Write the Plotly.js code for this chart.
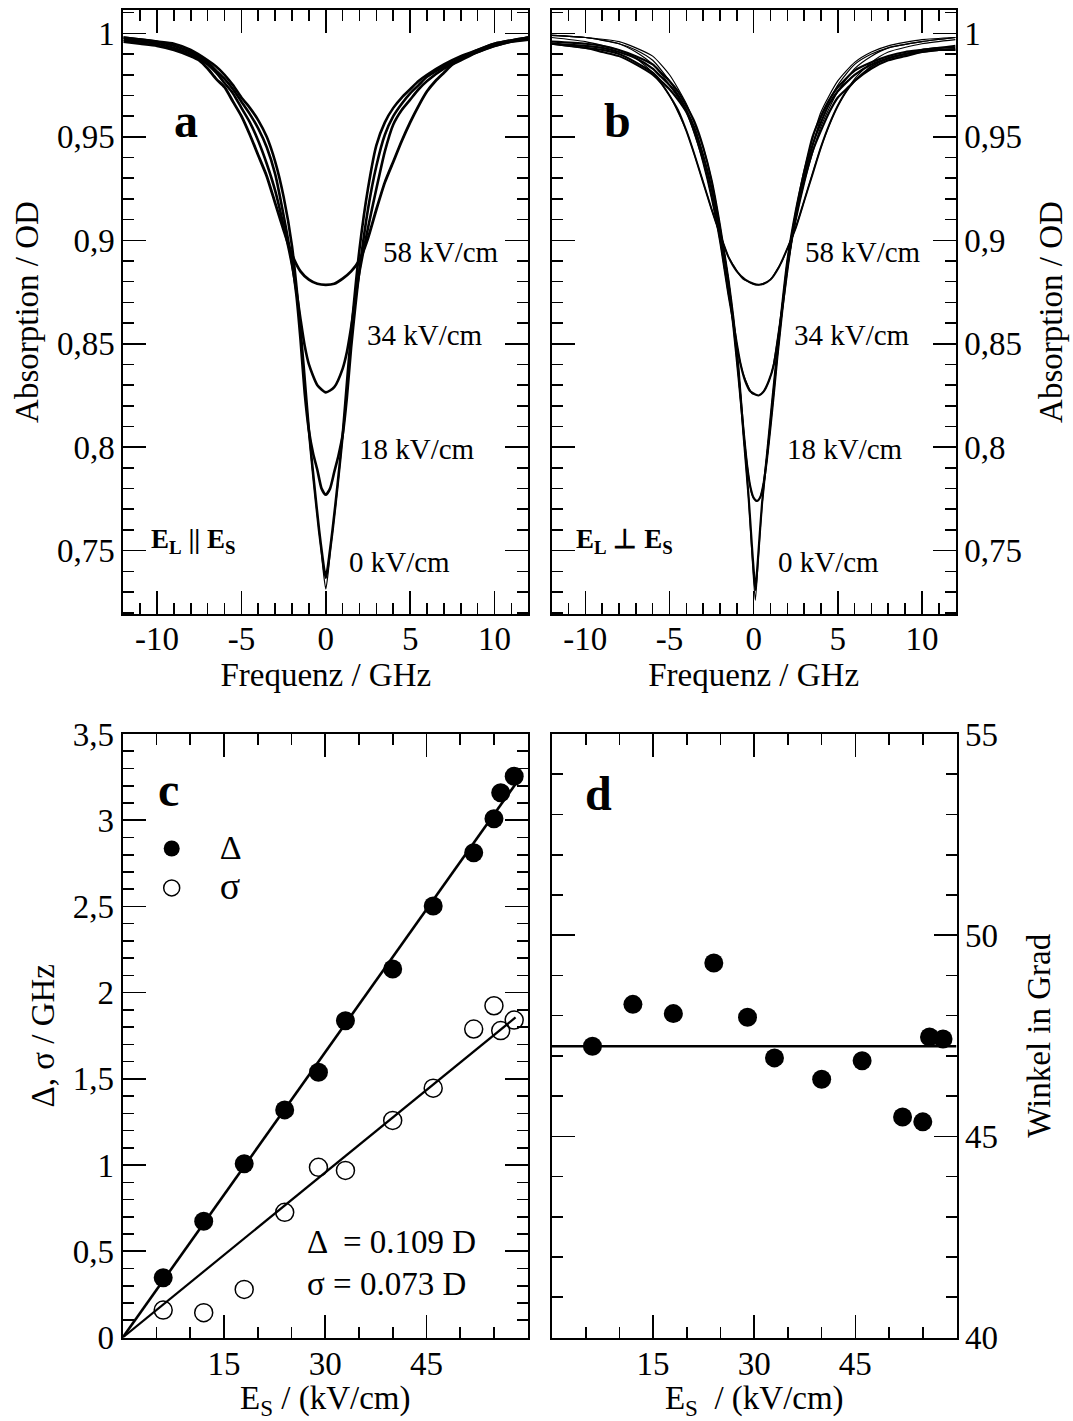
<!DOCTYPE html>
<html><head><meta charset="utf-8">
<script src="https://cdn.plot.ly/plotly-3.0.1.min.js"></script>
<style>body{margin:0;background:#fff}#chart{width:1073px;height:1421px}</style>
</head><body><div id="chart"></div>
<script>
// ---------- Panel a : E_L || E_S spectra (frequency in GHz, absorption in OD) ----------
const a58X = [-12,-11,-10,-9,-8,-7.5,-7,-6.5,-6,-5.5,-5,-4.5,-4,-3.5,-3,-2.5,-2,-1.5,-1,-0.5,0,0.5,1,1.5,2,2.5,3,3.5,4,4.5,5,5.5,6,6.5,7,7.5,8,9,10,11,12];
const a58Y = [0.996,0.995,0.994,0.992,0.989,0.987,0.983,0.978,0.974,0.967,0.960,0.951,0.941,0.931,0.918,0.905,0.893,0.885,0.881,0.879,0.8785,0.879,0.8815,0.885,0.8905,0.901,0.915,0.928,0.938,0.948,0.957,0.965,0.972,0.977,0.981,0.985,0.988,0.991,0.994,0.996,0.997];
const a34X = [-12,-10,-9,-8,-7,-6.5,-6,-5.5,-5,-4.5,-4,-3.5,-3,-2.5,-2,-1.75,-1.5,-1.25,-1,-0.5,0,0.5,1,1.25,1.5,1.75,2,2.5,3,3.5,4,4.5,5,5.5,6,7,8,9,10,12];
const a34Y = [0.997,0.995,0.993,0.990,0.985,0.981,0.976,0.971,0.964,0.957,0.948,0.937,0.924,0.907,0.888,0.876,0.862,0.849,0.840,0.830,0.8265,0.829,0.838,0.846,0.858,0.872,0.885,0.906,0.925,0.943,0.956,0.963,0.968,0.973,0.977,0.983,0.987,0.991,0.994,0.998];
const a18X = [-12,-10,-9,-8,-7,-6.5,-6,-5.5,-5,-4.5,-4,-3.5,-3,-2.5,-2,-1.75,-1.5,-1.25,-1,-0.75,-0.5,-0.25,0,0.25,0.5,0.75,1,1.25,1.5,1.75,2,2.5,3,3.5,4,4.5,5,5.5,6,7,8,9,10,12];
const a18Y = [0.998,0.996,0.994,0.991,0.986,0.982,0.978,0.973,0.967,0.961,0.954,0.945,0.932,0.912,0.889,0.874,0.852,0.826,0.808,0.797,0.789,0.780,0.777,0.780,0.788,0.796,0.806,0.824,0.848,0.868,0.886,0.915,0.936,0.951,0.960,0.966,0.971,0.975,0.979,0.984,0.988,0.992,0.995,0.998];
const a0X = [-12,-10,-9,-8,-7,-6.5,-6,-5.5,-5,-4.5,-4,-3.5,-3,-2.5,-2,-1.6,-1.3,-1,-0.7,-0.4,-0.2,-0.1,0,0.1,0.2,0.4,0.7,1,1.3,1.6,2,2.5,3,3.5,4,4.5,5,5.5,6,7,8,9,10,12];
const a0Y = [0.998,0.996,0.995,0.992,0.987,0.984,0.980,0.975,0.969,0.964,0.958,0.950,0.938,0.921,0.897,0.866,0.838,0.808,0.783,0.760,0.747,0.741,0.737,0.741,0.747,0.760,0.782,0.806,0.836,0.864,0.896,0.925,0.946,0.957,0.964,0.969,0.973,0.977,0.980,0.985,0.989,0.992,0.995,0.998];
const a0FitX = [-1.6,-1,-0.6,-0.3,-0.15,0,0.15,0.3,0.6,1,1.6];
const a0FitY = [0.866,0.806,0.774,0.752,0.740,0.7315,0.740,0.752,0.773,0.805,0.864];

// ---------- Panel b : E_L ⊥ E_S spectra, measured and fitted ----------
const b58X = [-12,-10,-9,-8,-7,-6,-5.5,-5,-4.5,-4,-3.5,-3,-2.5,-2,-1.5,-1,-0.5,0,0.3,0.6,1,1.5,2,2.5,3,3.5,4,4.5,5,5.5,6,7,8,9,10,11,12];
const b58Y = [0.995,0.993,0.991,0.989,0.985,0.980,0.976,0.970,0.963,0.953,0.941,0.928,0.915,0.903,0.892,0.885,0.881,0.879,0.8785,0.879,0.881,0.887,0.896,0.906,0.919,0.932,0.945,0.956,0.965,0.972,0.977,0.984,0.988,0.990,0.992,0.993,0.994];
const b34X = [-12,-10,-9,-8,-7,-6,-5.5,-5,-4.5,-4,-3.5,-3,-2.5,-2,-1.5,-1.2,-1,-0.8,-0.5,-0.2,0.1,0.3,0.6,0.9,1.2,1.5,1.8,2.2,2.5,3,3.5,4,4.5,5,5.5,6,7,8,9,10,11,12];
const b34Y = [0.995,0.993,0.992,0.990,0.986,0.981,0.977,0.973,0.968,0.962,0.952,0.938,0.921,0.900,0.874,0.860,0.850,0.841,0.832,0.827,0.8255,0.825,0.827,0.832,0.840,0.856,0.873,0.897,0.910,0.928,0.943,0.953,0.962,0.969,0.973,0.977,0.983,0.987,0.989,0.991,0.992,0.992];
const b18X = [-12,-10,-9,-8,-7,-6,-5.5,-5,-4.5,-4,-3.5,-3,-2.5,-2,-1.5,-1.2,-0.9,-0.6,-0.4,-0.2,0,0.2,0.4,0.6,0.8,1,1.2,1.4,1.7,2,2.5,3,3.5,4,4.5,5,6,7,8,9,10,11,12];
const b18Y = [0.995,0.994,0.993,0.991,0.988,0.983,0.979,0.975,0.970,0.963,0.954,0.941,0.925,0.904,0.879,0.858,0.834,0.808,0.792,0.781,0.7755,0.774,0.776,0.783,0.795,0.810,0.826,0.843,0.866,0.887,0.912,0.931,0.946,0.957,0.966,0.972,0.980,0.985,0.988,0.990,0.991,0.992,0.992];
const b0X = [-12,-10,-9,-8,-7,-6,-5.5,-5,-4.5,-4,-3.5,-3,-2.5,-2,-1.5,-1.2,-0.9,-0.6,-0.3,-0.1,0,0.1,0.2,0.3,0.5,0.8,1.1,1.4,1.7,2,2.5,3,3.5,4,4.5,5,6,7,8,9,10,11,12];
const b0Y = [0.996,0.995,0.994,0.992,0.989,0.985,0.981,0.977,0.972,0.965,0.957,0.945,0.929,0.907,0.881,0.862,0.838,0.806,0.776,0.752,0.741,0.731,0.740,0.751,0.773,0.797,0.822,0.846,0.869,0.890,0.914,0.933,0.950,0.960,0.968,0.974,0.982,0.986,0.989,0.991,0.992,0.993,0.993];
const bFitX  = [-12,-10,-8,-7,-6,-5,-4,-3,-2.5,-2,-1.5,-1.2,-0.9,-0.6,-0.3,-0.1,0.1,0.3,0.5,0.8,1.1,1.4,1.7,2,2.5,3,4,5,6,7,8,10,12];
const bFit0  = [0.999,0.998,0.996,0.993,0.989,0.980,0.966,0.945,0.929,0.907,0.881,0.862,0.838,0.806,0.775,0.748,0.726,0.749,0.772,0.797,0.822,0.846,0.869,0.890,0.914,0.934,0.962,0.977,0.986,0.991,0.994,0.997,0.998];
const bFit18 = [0.999,0.998,0.995,0.992,0.987,0.977,0.963,0.941,0.925,0.904,0.879,0.858,0.834,0.808,0.786,0.777,0.7745,0.7745,0.779,0.795,0.818,0.843,0.866,0.887,0.912,0.931,0.959,0.975,0.985,0.990,0.993,0.996,0.998];
const bFit34 = [0.999,0.998,0.995,0.991,0.985,0.975,0.962,0.938,0.921,0.900,0.874,0.860,0.845,0.835,0.829,0.826,0.8255,0.825,0.826,0.830,0.837,0.851,0.868,0.886,0.910,0.928,0.955,0.972,0.983,0.989,0.993,0.996,0.998];
const bFit58 = [0.998,0.996,0.992,0.988,0.981,0.970,0.953,0.928,0.915,0.903,0.892,0.888,0.884,0.881,0.880,0.879,0.8785,0.8785,0.879,0.880,0.882,0.886,0.890,0.896,0.906,0.919,0.945,0.965,0.978,0.986,0.991,0.995,0.997];

// ---------- Panels c, d : vs. field strength E_S (kV/cm) ----------
const fieldEs = [6,12,18,24,29,33,40,46,52,55,56,58];
const deltaGHz = [0.346,0.674,1.008,1.32,1.538,1.837,2.137,2.503,2.811,3.008,3.159,3.255];
const sigmaGHz = [0.159,0.144,0.279,0.726,0.987,0.969,1.259,1.446,1.789,1.924,1.780,1.841];
const angleDeg = [47.24,48.28,48.05,49.31,47.96,46.95,46.42,46.88,45.48,45.36,47.47,47.42];
const fitEs = [0, 58.2];
const deltaFit = [0, 3.21];
const sigmaFit = [0, 1.856];
const angleFitEs = [0, 60];
const angleFit = [47.24, 47.24];

// tick labels
const freqTicks = [-10,-5,0,5,10];
const freqTickText = ['-10','-5','0','5','10'];
const esTicks = [15,30,45];
const esTickText = ['15','30','45'];

// ---------- layout helpers ----------
const W = 1073, H = 1421;
const FONT = '"Liberation Serif", "Times New Roman", serif';
const BLACK = '#000';
const TICKSIZE = 33, TITLESIZE = 33;
function minor(dt){ return {dtick:dt, tick0:0, ticks:'inside', ticklen:11, tickwidth:1.6, tickcolor:BLACK, showgrid:false}; }
function ax(extra){
  return Object.assign({
    showline:true, linewidth:2, linecolor:BLACK, mirror:'ticks',
    ticks:'inside', ticklen:23, tickwidth:1.6, tickcolor:BLACK,
    showgrid:false, zeroline:false, fixedrange:true, automargin:false,
    tickfont:{family:FONT, size:TICKSIZE, color:BLACK}
  }, extra);
}
function ttl(text, standoff){ return {text:text, font:{family:FONT, size:TITLESIZE, color:BLACK}, standoff:standoff}; }
const dx = (a,b)=>[a/W, b/W];
const dy = (top,bot)=>[1-bot/H, 1-top/H];

function line(x, y, xa, ya, w){
  return {x:x, y:y, xaxis:xa, yaxis:ya, mode:'lines', showlegend:false, hoverinfo:'skip',
          line:{color:BLACK, width:w, shape:'spline', smoothing:0.6}};
}

const traces = [
  line(a58X, a58Y, 'x', 'y', 2.8),
  line(a34X, a34Y, 'x', 'y', 2.6),
  line(a18X, a18Y, 'x', 'y', 2.6),
  line(a0X, a0Y, 'x', 'y', 2.6),
  line(a0FitX, a0FitY, 'x', 'y', 1.2),

  line(b58X, b58Y, 'x2', 'y2', 2.0),
  line(b34X, b34Y, 'x2', 'y2', 2.2),
  line(b18X, b18Y, 'x2', 'y2', 2.2),
  line(b0X, b0Y, 'x2', 'y2', 2.2),
  line(bFitX, bFit0, 'x2', 'y2', 1.2),
  line(bFitX, bFit18, 'x2', 'y2', 1.2),
  line(bFitX, bFit34, 'x2', 'y2', 1.2),
  line(bFitX, bFit58, 'x2', 'y2', 1.2),

  {x:fitEs, y:deltaFit, xaxis:'x3', yaxis:'y3', mode:'lines', showlegend:false, line:{color:BLACK, width:2.6}},
  {x:fitEs, y:sigmaFit, xaxis:'x3', yaxis:'y3', mode:'lines', showlegend:false, line:{color:BLACK, width:2.2}},
  {x:fieldEs, y:deltaGHz, xaxis:'x3', yaxis:'y3', mode:'markers', name:'<span style="font-size:34px">Δ</span>',
   marker:{symbol:'circle', size:19, color:BLACK}},
  {x:fieldEs, y:sigmaGHz, xaxis:'x3', yaxis:'y3', mode:'markers', name:'<span style="font-size:38px">σ</span>',
   marker:{symbol:'circle-open', size:18, color:BLACK, line:{width:1.5, color:BLACK}}},

  {x:angleFitEs, y:angleFit, xaxis:'x4', yaxis:'y4', mode:'lines', showlegend:false, line:{color:BLACK, width:2.6}},
  {x:fieldEs, y:angleDeg, xaxis:'x4', yaxis:'y4', mode:'markers', showlegend:false,
   marker:{symbol:'circle', size:19, color:BLACK}}
];

function ann(text, px, py, size, extra){
  return Object.assign({text:text, xref:'paper', yref:'paper', x:px/W, y:1-py/H,
    xanchor:'center', yanchor:'middle', showarrow:false,
    font:{family:FONT, size:size, color:BLACK}}, extra||{});
}

const layout = {
  width:W, height:H, margin:{l:0, r:0, t:0, b:0},
  paper_bgcolor:'#fff', plot_bgcolor:'rgba(0,0,0,0)',
  separators:',.',
  font:{family:FONT, color:BLACK},
  showlegend:true,
  legend:{x:123.7/W, y:1-823.8/H, xanchor:'left', yanchor:'top', bgcolor:'rgba(0,0,0,0)',
          borderwidth:0, itemwidth:86, font:{family:FONT, size:28, color:BLACK}, tracegroupgap:0},
  xaxis: ax({domain:dx(123.3,528.3), anchor:'y', range:[-12,12], tickmode:'array', tickvals:freqTicks, ticktext:freqTickText,
             ticklabelstandoff:-6, minor:minor(1), title:ttl('Frequenz / GHz', 3)}),
  yaxis: ax({domain:dy(10,614), anchor:'x', range:[0.7194,1.0113], dtick:0.05, tick0:0, minor:minor(0.01),
             title:ttl('Absorption / OD', 8)}),
  xaxis2: ax({domain:dx(551.7,955.6), anchor:'y2', range:[-12,12], tickmode:'array', tickvals:freqTicks, ticktext:freqTickText,
             ticklabelstandoff:-6, minor:minor(1), title:ttl('Frequenz / GHz', 3)}),
  yaxis2: ax({domain:dy(10,614), anchor:'x2', side:'right', range:[0.7194,1.0113], dtick:0.05, tick0:0, minor:minor(0.01),
             title:ttl('Absorption / OD', 18)}),
  xaxis3: ax({domain:dx(122.7,527.7), anchor:'y3', range:[0,60], tickmode:'array', tickvals:esTicks, ticktext:esTickText,
             ticklabelstandoff:-4, minor:minor(5), title:ttl('E<sub>S</sub> / (kV/cm)', 3)}),
  yaxis3: ax({domain:dy(734,1337.5), anchor:'x3', range:[0,3.5], dtick:0.5, tick0:0, minor:minor(0.1),
             title:ttl('Δ, σ / GHz', 8)}),
  xaxis4: ax({domain:dx(552,956.5), anchor:'y4', range:[0,60], tickmode:'array', tickvals:esTicks, ticktext:esTickText,
             ticklabelstandoff:-4, minor:minor(5), title:ttl('E<sub>S</sub>  / (kV/cm)', 3)}),
  yaxis4: ax({domain:dy(734,1337.5), anchor:'x4', side:'right', range:[40,55], dtick:5, tick0:0, minor:minor(1),
             title:ttl('Winkel in Grad', 30)}),
  annotations:[
    ann('<b>a</b>', 186, 120, 48),
    ann('<b>b</b>', 617, 120, 48),
    ann('<b>c</b>', 168, 789, 48),
    ann('<b>d</b>', 598, 793, 48),
    ann('58 kV/cm', 441, 252, 29),
    ann('34 kV/cm', 425, 335, 29),
    ann('18 kV/cm', 416.5, 449, 29),
    ann('0 kV/cm', 399, 562, 29),
    ann('58 kV/cm', 862.5, 252, 29),
    ann('34 kV/cm', 852, 335, 29),
    ann('18 kV/cm', 844.5, 449, 29),
    ann('0 kV/cm', 828, 562, 29),
    ann('<b>E<sub>L</sub> || E<sub>S</sub></b>', 193, 541, 27),
    ann('<b>E<sub>L</sub> ⊥ E<sub>S</sub></b>', 624, 541, 27),
    ann('Δ  = 0.109 D', 305, 1242, 33, {xanchor:'left'}),
    ann('σ = 0.073 D', 305, 1284, 33, {xanchor:'left'})
  ]
};

Plotly.newPlot('chart', traces, layout, {staticPlot:true, displayModeBar:false});
</script></body></html>
